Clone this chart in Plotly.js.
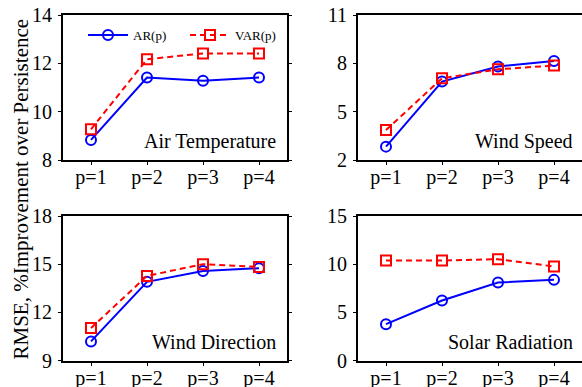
<!DOCTYPE html>
<html>
<head>
<meta charset="utf-8">
<script src="https://cdn.plot.ly/plotly-3.0.1.min.js"></script>
<style>html,body{margin:0;padding:0;background:#fff;}#chart{width:582px;height:387px;}</style>
</head>
<body>
<div id="chart"></div>
<script>
const categories = ['p=1', 'p=2', 'p=3', 'p=4'];
const panelTitles = ['Air Temperature', 'Wind Speed', 'Wind Direction', 'Solar Radiation'];
const seriesNames = ['AR(p)', 'VAR(p)'];
const arAirTemp = [8.83, 11.41, 11.28, 11.41];
const varAirTemp = [9.27, 12.17, 12.41, 12.41];
const arWindSpeed = [2.83, 6.87, 7.80, 8.15];
const varWindSpeed = [3.86, 7.07, 7.63, 7.86];
const arWindDir = [10.19, 13.90, 14.58, 14.75];
const varWindDir = [11.02, 14.27, 15.00, 14.83];
const arSolar = [3.77, 6.23, 8.10, 8.37];
const varSolar = [10.38, 10.38, 10.52, 9.76];
const yTicks = [[8, 10, 12, 14], [2, 5, 8, 11], [9, 12, 15, 18], [0, 5, 10, 15]];
const yTitle = 'RMSE, %Improvement over Persistence';

const FONT = 'Liberation Serif';
const arData = [arAirTemp, arWindSpeed, arWindDir, arSolar];
const varData = [varAirTemp, varWindSpeed, varWindDir, varSolar];

const xDomains = [[63/582, 287/582], [358/582, 1], [63/582, 287/582], [358/582, 1]];
const yDomains = [[1-160/387, 1-15/387], [1-160/387, 1-15/387], [1-360.5/387, 1-216/387], [1-360.5/387, 1-216/387]];

const traces = [];
const layout = {
  width: 582, height: 387,
  margin: {l: 0, r: 0, t: 0, b: 0},
  paper_bgcolor: '#fff', plot_bgcolor: '#fff',
  font: {family: FONT, size: 20, color: '#000'},
  showlegend: true,
  legend: {
    orientation: 'h', x: 83/582, y: 1 - 35/387, xanchor: 'left', yanchor: 'middle',
    bgcolor: 'rgba(0,0,0,0)', borderwidth: 0,
    font: {family: FONT, size: 13, color: '#000'},
    entrywidth: 47, entrywidthmode: 'pixels', itemwidth: 40, tracegroupgap: 0
  },
  annotations: [],
  shapes: []
};

for (let i = 0; i < 4; i++) {
  const sfx = i === 0 ? '' : String(i + 1);
  const xa = 'x' + sfx, ya = 'y' + sfx;
  traces.push({
    x: categories, y: arData[i], xaxis: xa, yaxis: ya, type: 'scatter', mode: 'lines+markers',
    name: seriesNames[0], legendgroup: 'ar', showlegend: i === 0,
    line: {color: '#0000ff', width: 2},
    marker: {symbol: 'circle-open', size: 10, color: '#0000ff', line: {width: 2, color: '#0000ff'}}
  });
  traces.push({
    x: categories, y: varData[i], xaxis: xa, yaxis: ya, type: 'scatter', mode: 'lines+markers',
    name: seriesNames[1], legendgroup: 'var', showlegend: i === 0,
    line: {color: '#ff0000', width: 2, dash: '6px,4px'},
    marker: {symbol: 'square-open', size: 10, color: '#ff0000', line: {width: 2, color: '#ff0000'}}
  });
  const left = (i % 2 === 0);
  layout['xaxis' + sfx] = {
    domain: xDomains[i], anchor: ya, type: 'category', range: [-0.5, 3.5],
    showline: true, linecolor: '#000', linewidth: 2, mirror: true,
    ticks: 'outside', ticklen: 3, tickwidth: 1, tickcolor: '#000',
    showgrid: false, zeroline: false, fixedrange: true, ticklabelstandoff: -5,
    tickfont: {family: FONT, size: 20, color: '#000'}
  };
  const yt = yTicks[i];
  layout['yaxis' + sfx] = {
    domain: yDomains[i], anchor: xa, range: [yt[0], yt[yt.length - 1]],
    tickvals: yt, ticktext: yt.map(String),
    showline: true, linecolor: '#000', linewidth: 2, mirror: left ? 'allticks' : false,
    ticks: 'outside', ticklen: 3, tickwidth: 1, tickcolor: '#000',
    showgrid: false, zeroline: false, fixedrange: true, ticklabelstandoff: 2,
    tickfont: {family: FONT, size: 20, color: '#000'}
  };
  layout.annotations.push({
    text: panelTitles[i], xref: xa + ' domain', yref: ya + ' domain',
    x: left ? 0.96 : 0.97, y: 0.125, xanchor: 'right', yanchor: 'middle',
    showarrow: false, font: {family: FONT, size: 20, color: '#000'}
  });
}

layout.annotations.push({
  text: yTitle, xref: 'paper', yref: 'paper', x: 20/582, y: 1 - 189.5/387,
  xanchor: 'center', yanchor: 'middle', textangle: -90, showarrow: false,
  font: {family: FONT, size: 21, color: '#000'}
});

Plotly.newPlot('chart', traces, layout, {displayModeBar: false, staticPlot: true});
</script>
</body>
</html>
